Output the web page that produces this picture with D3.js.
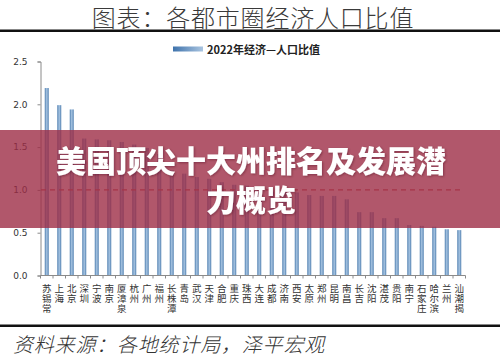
<!DOCTYPE html>
<html><head><meta charset="utf-8">
<script src="https://cdn.jsdelivr.net/npm/d3@7"></script>
<style>body{margin:0;background:#fff;}svg{display:block;}</style>
</head><body>
<svg id="c" width="500" height="358"></svg>
<script>
const categories = ["苏锡常","上海","北京","深圳","宁波","南京","厦漳泉","杭州","广州","福州","长株潭","青岛","武汉","天津","合肥","重庆","珠西","大连","成都","济南","西安","太原","郑州","昆明","南昌","长吉","沈阳","湛茂","贵阳","南宁","石家庄","哈尔滨","兰州","汕潮揭"];
const values = [2.19,1.99,1.94,1.60,1.59,1.58,1.56,1.53,1.49,1.42,1.23,1.19,1.15,1.13,1.09,1.06,1.05,1.01,0.98,0.98,0.97,0.94,0.93,0.93,0.89,0.74,0.74,0.67,0.67,0.59,0.58,0.57,0.54,0.53];
const yTicks = [0,0.5,1.0,1.5,2.0,2.5];
const refValue = 1.0;
const seriesName = "2022年经济—人口比值";
const pageTitle = "图表：各都市圈经济人口比值";
const source = "资料来源：各地统计局，泽平宏观";
const bannerLines = ["美国顶尖十大州排名及发展潜","力概览"];

const svg = d3.select("#c");
const cjk = "'Noto Sans CJK SC','Noto Sans',sans-serif";
const defs = svg.append("defs");
const g1 = defs.append("linearGradient").attr("id","bar").attr("x1","0").attr("x2","1").attr("y1","0").attr("y2","0");
g1.append("stop").attr("offset","0").attr("stop-color","#4f7fb0");
g1.append("stop").attr("offset","0.5").attr("stop-color","#a8c5e2");
g1.append("stop").attr("offset","1").attr("stop-color","#4f7fb0");
const g2 = defs.append("linearGradient").attr("id","leg").attr("x1","0").attr("x2","1").attr("y1","0").attr("y2","0");
g2.append("stop").attr("offset","0").attr("stop-color","#3f73ac");
g2.append("stop").attr("offset","1").attr("stop-color","#a9c4e0");
const sh = defs.append("filter").attr("id","sh").attr("x","-10%").attr("y","-20%").attr("width","120%").attr("height","140%");
sh.append("feDropShadow").attr("dx",1).attr("dy",1).attr("stdDeviation",0.8).attr("flood-color","#3c0014").attr("flood-opacity",0.4);

// page title
svg.append("text").attr("x",253).attr("y",27).attr("text-anchor","middle")
  .attr("font-family",cjk).attr("font-size",24).attr("font-weight",300).attr("fill","#3a3a3a")
  .attr("letter-spacing",0.8).text(pageTitle);
svg.append("rect").attr("x",0).attr("y",29.5).attr("width",500).attr("height",2.5).attr("fill","#111");

// legend
svg.append("rect").attr("x",173).attr("y",46.5).attr("width",30).attr("height",5).attr("fill","url(#leg)");
svg.append("text").attr("x",207).attr("y",53.5).attr("font-family",cjk).attr("font-size",11)
  .attr("font-weight",700).attr("fill","#222").text(seriesName);

const x = d3.scaleBand().domain(categories).range([40.5,465.5]).paddingInner(0).paddingOuter(0);
const y = d3.scaleLinear().domain([0,2.5]).range([275.5,61.5]);

// bars
const bw = 4;
svg.append("g").selectAll("rect").data(values).join("rect")
  .attr("x",(d,i)=>x(categories[i])+x.bandwidth()/2-bw/2)
  .attr("y",d=>y(d)).attr("width",bw).attr("height",d=>y(0)-y(d))
  .attr("fill","url(#bar)");

// y axis
const ya = svg.append("g").attr("transform","translate(40.5,0)")
  .call(d3.axisLeft(y).tickValues(yTicks).tickFormat(d3.format(".1f")).tickSize(3).tickPadding(10));
ya.select(".domain").attr("stroke","#8a8a8a");
ya.selectAll(".tick line").attr("stroke","#8a8a8a");
ya.selectAll("text").attr("font-family","'DejaVu Sans',sans-serif").attr("font-size",9).attr("fill","#333");

// x axis
const xa = svg.append("g").attr("transform","translate(0,"+y(0)+")");
xa.append("line").attr("x1",40.5).attr("x2",465.5).attr("y1",0).attr("y2",0).attr("stroke","#8a8a8a");
xa.selectAll("line.t").data(d3.range(categories.length+1)).join("line").attr("class","t")
  .attr("x1",i=>40.5+i*x.step()).attr("x2",i=>40.5+i*x.step()).attr("y1",0).attr("y2",3).attr("stroke","#8a8a8a");
const lab = xa.selectAll("text").data(categories).join("text")
  .attr("text-anchor","middle").attr("font-family",cjk).attr("font-size",9.5).attr("fill","#333");
lab.each(function(d){
  const t = d3.select(this);
  const cx = x(d)+x.bandwidth()/2;
  Array.from(d).forEach((ch,k)=>{
    t.append("tspan").attr("x",cx).attr("y",16+k*10).text(ch);
  });
});

// reference line
svg.append("line").attr("x1",41).attr("x2",460).attr("y1",y(refValue)).attr("y2",y(refValue))
  .attr("stroke","#c0504d").attr("stroke-width",1.2).attr("stroke-dasharray","5,4");

// footer
svg.append("rect").attr("x",0).attr("y",324.5).attr("width",500).attr("height",2.5).attr("fill","#111");
svg.append("text").attr("x",13).attr("y",352).attr("font-family",cjk).attr("font-size",20)
  .attr("font-style","italic").attr("font-weight",300).attr("fill","#333")
  .attr("letter-spacing",0.8).text(source);

// banner overlay
svg.append("rect").attr("x",0).attr("y",130).attr("width",500).attr("height",98)
  .attr("fill","rgb(158,45,70)").attr("fill-opacity",0.8);
const bt = svg.append("g").attr("font-family",cjk).attr("font-size",30).attr("font-weight",900)
  .attr("text-anchor","middle").attr("filter","url(#sh)");
bannerLines.forEach((s,i)=>{
  bt.append("text").attr("x",251).attr("y",172+i*38.5).attr("fill","#fff").text(s);
});
</script>
</body></html>
